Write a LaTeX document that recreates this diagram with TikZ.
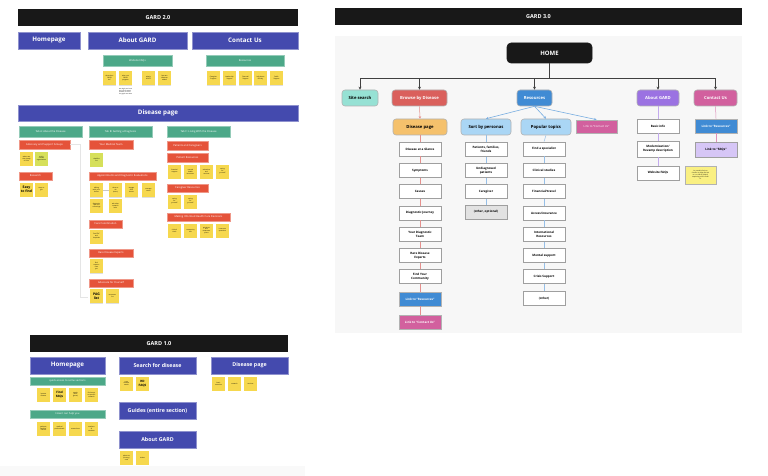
\documentclass[tikz,border=0pt]{standalone}
\usepackage{fontspec}
\setmainfont{Open Sans}
\usetikzlibrary{arrows.meta, shadows}

\definecolor{barblack}{RGB}{24,24,24}
\definecolor{gardindigo}{RGB}{68,74,174}
\definecolor{tabgreen}{RGB}{76,168,136}
\definecolor{labelred}{RGB}{229,83,58}
\definecolor{stickyyellow}{RGB}{246,216,78}
\definecolor{stickylime}{RGB}{214,224,90}
\definecolor{panelgray}{RGB}{247,247,247}
\definecolor{sitecyan}{RGB}{150,225,212}
\definecolor{browsered}{RGB}{218,96,92}
\definecolor{pageorange}{RGB}{245,193,108}
\definecolor{resblue}{RGB}{64,139,212}
\definecolor{skyblue}{RGB}{170,214,245}
\definecolor{aboutpurple}{RGB}{155,114,226}
\definecolor{contactpink}{RGB}{210,96,158}
\definecolor{lavender}{RGB}{214,198,246}
\definecolor{noteyellow}{RGB}{250,240,130}
\definecolor{othergray}{RGB}{226,226,226}

\tikzset{
  titlebar/.style={fill=barblack, text=white, font=\bfseries\fontsize{5.5}{6}\selectfont,
    minimum height=17pt, inner sep=0pt},
  sectionbox/.style={fill=gardindigo, draw=gardindigo!60, line width=0.4pt, text=white,
    font=\bfseries\fontsize{6.2}{7}\selectfont, minimum height=17pt, inner sep=0pt},
  tabbar/.style={fill=tabgreen, draw=tabgreen!60, line width=0.3pt, text=white,
    font=\fontsize{2.6}{3}\selectfont, minimum height=11pt, inner sep=0pt},
  redbar/.style={fill=labelred, draw=labelred!60, line width=0.3pt, text=white,
    font=\fontsize{2.6}{3}\selectfont, minimum height=9pt, inner sep=0pt},
  sticky/.style={fill=stickyyellow, minimum width=13pt, minimum height=14pt, inner sep=0.4pt,
    align=center, font=\fontsize{1.6}{1.9}\selectfont,
    drop shadow={shadow xshift=0pt, shadow yshift=-0.7pt, opacity=0.25}},
  bigsticky/.style={sticky, font=\bfseries\fontsize{3.4}{3.8}\selectfont},
  topbox/.style={rounded corners=3pt, draw=gray!60, line width=0.6pt, minimum height=16pt,
    inner sep=0pt, font=\bfseries\fontsize{4.2}{5}\selectfont},
  leaf/.style={fill=white, draw=gray!75, line width=0.7pt, minimum width=42pt, minimum height=14pt,
    inner sep=0.5pt, align=center, font=\bfseries\fontsize{3}{3.6}\selectfont},
  homeline/.style={draw=black!75, line width=0.8pt},
  frameline/.style={draw=gray!20, line width=0.6pt},
}

\begin{document}
\begin{tikzpicture}[x=1pt, y=-1pt]
\useasboundingbox (0,0) rectangle (768,476);
\fill[gray!5] (0,466) rectangle (305,476);

% ---------------- GARD 2.0 ----------------
\node[titlebar, minimum width=280pt] (title2) at (158,17.5) {GARD 2.0};
\node[sectionbox, minimum width=62pt] (home2) at (49,40.5) {Homepage};
\node[sectionbox, minimum width=99pt] (about2) at (137.5,40.5) {About GARD};
\node[sectionbox, minimum width=106pt] (contact2) at (245,40.5) {Contact Us};
\node[tabbar, minimum width=69pt] (faq2) at (137.5,60.5) {Website FAQs};
\node[tabbar, minimum width=78pt] (res2) at (245,60.5) {Resources};
\foreach \x/\t [count=\i] in {109.5/{what does\\GARD\\do?}, 125.5/{who runs\\GARD\\program}, 148.5/{what's\\NCATS}, 164.5/{how are\\diseases\\added}}
  \node[sticky] (abst\i) at (\x,78) {\t};
\node[anchor=north west, align=left, inner sep=0pt, font=\fontsize{1.5}{1.8}\selectfont] (absnote) at (119,88)
  {we might not have\\the info for every\\disease, so fill in\\the gaps over time};
\foreach \x/\t [count=\i] in {213.5/{Caregiver\\Support}, 229.5/{Leadership\\Support}, 245.5/{Financial\\Support}, 260.5/{Info about\\RD day}, 276.5/{Public\\Support}}
  \node[sticky] (cost\i) at (\x,78) {\t};

\node[sectionbox, minimum width=280pt, minimum height=16pt] (disease2) at (158,113) {Disease page};
\node[tabbar, minimum width=63pt] (tabA) at (50.5,131.5) {Tab A: About the Disease};
\node[tabbar, minimum width=63pt] (tabB) at (120.5,131.5) {Tab B: Getting a Diagnosis};
\node[tabbar, minimum width=63pt] (tabC) at (198.5,131.5) {Tab C: Living With the Disease};

% tab A
\node[redbar, minimum width=51pt] (advo) at (44.5,144.5) {Advocacy and Support Groups};
\node[sticky] (advst1) at (26.5,158.5) {where are\\they (map)\\on info};
\node[sticky, fill=stickylime] (advst2) at (41.5,158.5) {add a\\contact\\organization};
\node[redbar, minimum width=33pt, minimum height=8pt] (research) at (35.5,176) {Research};
\node[bigsticky] (resst1) at (26.5,189.5) {Easy\\to find};
\node[sticky] (resst2) at (41.5,189.5) {ways to\\get};
\coordinate (fcorner) at (80,297);
\coordinate (fend) at (88,297);
\draw[frameline] (advo.east) -| (fcorner) -- (fend);

% tab B
\node[redbar, minimum width=44pt] (medteam) at (111,144.5) {Your Medical Team};
\node[sticky, fill=stickylime] (medst1) at (96.5,159.5) {checklist\\list};
\node[redbar, minimum width=67pt, minimum height=8pt] (appts) at (122.5,176) {Appointments and Diagnostic Evaluations};
\foreach \x/\t [count=\i] in {96.5/{talking\\with your\\doctor}, 115.5/{what to\\do\\(tests)}, 131.5/{engage\\with\\doctor}, 148.5/{manage\\stress}}
  \node[sticky] (apst\i) at (\x,190) {\t};
\node[sticky] (apst5) at (96.5,205.5) {diagnosis\\tips and\\screenings};
\node[sticky] (apst6) at (115.5,205.5) {ask other\\research\\labs};
\draw[frameline, draw=gray!45] (apst1) -- (apst2);
\node[redbar, minimum width=33pt, minimum height=8pt] (carecoord) at (105.5,224) {Care Coordination};
\node[sticky] (ccst1) at (96.5,236.5) {See EDC\\and\\hospitals};
\node[redbar, minimum width=44pt, minimum height=8pt] (experts) at (111,253) {Rare Disease Experts};
\node[sticky] (exst1) at (96.5,266) {find\\experts\\near\\you};
\node[redbar, minimum width=44pt, minimum height=8pt] (advocate) at (111,283) {Advocate for Yourself};
\node[bigsticky] (avst1) at (96.5,296) {PAG\\list};
\node[sticky] (avst2) at (112.5,296) {resources\\list};

% tab C
\node[redbar, minimum width=41pt] (patcare) at (187.5,145.5) {Patients and Caregivers};
\node[redbar, minimum width=41pt] (patres) at (187.5,157.5) {Patient Resources};
\foreach \x/\t [count=\i] in {174.5/{financial\\support}, 190.5/{mental\\health\\resources}, 206.5/{education\\and\\services}, 222.5/{caring\\for\\yourself}}
  \node[sticky] (prst\i) at (\x,171.5) {\t};
\node[redbar, minimum width=41pt, minimum height=8pt] (cgres) at (187.5,188) {Caregiver Resources};
\foreach \x [count=\i] in {174.5, 190.5}
  \node[sticky] (cgst\i) at (\x,201.5) {caring\\for\\yourself};
\node[redbar, minimum width=63pt, minimum height=8pt] (informed) at (198.5,217) {Making Informed Health Care Decisions};
\foreach \x/\t [count=\i] in {174.5/{clinical\\trials}, 190.5/{community\\info}, 206.5/{guidance\\and\\treatment\\plans}, 222.5/{insurance\\questions}}
  \node[sticky] (inst\i) at (\x,230.5) {\t};

% ---------------- GARD 1.0 ----------------
\node[titlebar, minimum width=258pt] (title1) at (159,343.5) {GARD 1.0};
\node[sectionbox, minimum width=75pt] (home1) at (67.5,365.5) {Homepage};
\node[sectionbox, minimum width=77pt, font=\bfseries\fontsize{5.3}{6}\selectfont] (search1) at (157.5,365.5) {Search for disease};
\node[sectionbox, minimum width=77pt, font=\bfseries\fontsize{5.3}{6}\selectfont] (dpage1) at (249.5,365.5) {Disease page};
\node[sectionbox, minimum width=77pt, font=\bfseries\fontsize{5.3}{6}\selectfont] (guides1) at (157.5,410.5) {Guides (entire section)};
\node[sectionbox, minimum width=77pt, font=\bfseries\fontsize{5.3}{6}\selectfont] (about1) at (157.5,439.5) {About GARD};
\node[tabbar, minimum width=75pt, minimum height=8pt] (quick1) at (67.5,381) {quick access to some sections};
\node[tabbar, minimum width=75pt, minimum height=8pt] (help1) at (67.5,414) {How it can help you};
\node[sticky] (qst1) at (43.5,394.5) {browse\\disease};
\node[bigsticky, font=\bfseries\fontsize{3}{3.4}\selectfont] (qst2) at (59.5,394.5) {Find\\FAQs};
\node[sticky] (qst3) at (75.5,394.5) {search\\(with\\genes)};
\node[sticky] (qst4) at (91.5,394.5) {find more\\on specific\\research};
\foreach \x/\t [count=\i] in {43.5/{patients,\\families,\\friends}, 59.5/{medical\\professionals}, 75.5/{researchers}, 91.5/{teachers\\\&\\students}}
  \node[sticky] (hst\i) at (\x,428.5) {\t};
\node[sticky] (sst1) at (126.5,383.5) {rare\\disease\\search};
\node[bigsticky, font=\bfseries\fontsize{3}{3.4}\selectfont] (sst2) at (142.5,383.5) {RD\\FAQS};
\foreach \x/\t [count=\i] in {218.5/{basic\\overview}, 234.5/{research}, 250.5/{services}}
  \node[sticky] (dst\i) at (\x,383.5) {\t};
\node[sticky] (ast1) at (126.5,457.5) {about us\\(history)\\card};
\node[sticky] (ast2) at (142.5,457.5) {videos};

% ---------------- GARD 3.0 ----------------
\node[titlebar, minimum width=407pt] (title3) at (538.5,16.5) {GARD 3.0};
\fill[panelgray] (335,36) rectangle (742,333);
\node[topbox, fill=barblack, draw=barblack, text=white, minimum width=85pt, minimum height=20pt,
  rounded corners=4pt, font=\bfseries\fontsize{6}{7}\selectfont] (home3) at (549.5,53) {HOME};

\node[topbox, fill=sitecyan, minimum width=36pt] (site) at (360,98) {Site search};
\node[topbox, fill=browsered, text=white, minimum width=55pt] (browse) at (419.5,98) {Browse by Disease};
\node[topbox, fill=resblue, text=white, minimum width=35pt] (resources) at (534.5,98) {Resources};
\node[topbox, fill=aboutpurple, text=white, minimum width=42pt] (aboutg) at (658,98) {About GARD};
\node[topbox, fill=contactpink, text=white, minimum width=43pt] (contact3) at (715.5,98) {Contact Us};

\coordinate (hub) at (549.5,78);
\draw[homeline] (home3.south) -- (hub);
\foreach \n in {site, browse, resources, aboutg, contact3}
  \draw[homeline, -{Stealth[length=3pt, width=3pt]}] (hub) -| (\n.north);

% browse by disease
\node[topbox, fill=pageorange, minimum width=54pt] (dpage3) at (420,127) {Disease page};
\foreach \t [count=\i] in {Disease at a Glance, Symptoms, Causes, Diagnostic Journey, {Your Diagnostic\\Team}, {Rare Disease\\Experts}, {Find Your\\Community}}
  \node[leaf] (dl\i) at (420,{149+21.3*(\i-1)}) {\t};
\node[leaf, fill=resblue, text=white, draw=gray!60] (dl8) at (420,299) {Link to ``Resources''};
\node[leaf, fill=contactpink, text=white, draw=gray!60] (dl9) at (420,322) {Link to ``Contact Us''};
\draw[browsered!70, line width=0.5pt, -{Stealth[length=2.5pt, width=2.5pt]}] (browse.south) -- (dpage3.north);
\draw[browsered!70, line width=0.5pt] (dpage3.south) -- (dl1.north);
\foreach \i [evaluate=\i as \j using int(\i+1)] in {1,...,8}
  \draw[browsered!70, line width=0.5pt] (dl\i.south) -- (dl\j.north);

% resources
\node[topbox, fill=skyblue, minimum width=50pt] (personas) at (486,127) {Sort by personas};
\node[topbox, fill=skyblue, minimum width=50pt] (popular) at (546,127) {Popular topics};
\node[leaf, fill=contactpink, text=white, draw=gray!60, minimum width=41pt, minimum height=13pt,
  font=\fontsize{2.8}{3.4}\selectfont] (rlink) at (596.5,126.5) {Link to ``Contact Us''};
\foreach \n in {personas, popular, rlink}
  \draw[resblue!70, line width=0.6pt, -{Stealth[length=2.5pt, width=2.5pt]}] (resources.south) -- (\n.north);

\foreach \t [count=\i] in {{Patients, families,\\friends}, {Undiagnosed\\patients}, Caregiver}
  \node[leaf] (pl\i) at (486,{149.5+21*(\i-1)}) {\t};
\node[leaf, fill=othergray] (pl4) at (486,212) {(other, optional)};
\draw[resblue!55, line width=0.5pt] (personas.south) -- (pl1.north);
\foreach \i [evaluate=\i as \j using int(\i+1)] in {1,...,3}
  \draw[resblue!55, line width=0.5pt] (pl\i.south) -- (pl\j.north);

\foreach \t [count=\i] in {Find a specialist, Clinical studies, Financial/travel, Access/insurance, {International\\Resources}, Mental support, Crisis Support, (other)}
  \node[leaf] (tl\i) at (544,{149+21.3*(\i-1)}) {\t};
\draw[resblue!55, line width=0.5pt] (popular.south) -- (tl1.north);
\foreach \i [evaluate=\i as \j using int(\i+1)] in {1,...,7}
  \draw[resblue!55, line width=0.5pt] (tl\i.south) -- (tl\j.north);

% about GARD
\node[leaf] (al1) at (658,126) {Basic info};
\node[leaf, minimum height=16pt] (al2) at (658,149) {Modernization/\\Revamp description};
\node[leaf] (al3) at (658,173) {Website FAQs};
\draw[aboutpurple!60, line width=0.5pt] (aboutg.south) -- (al1.north);
\draw[aboutpurple!60, line width=0.5pt] (al1.south) -- (al2.north);
\draw[aboutpurple!60, line width=0.5pt] (al2.south) -- (al3.north);
\node[fill=noteyellow, draw=gray!60, line width=0.4pt, minimum width=31pt, minimum height=18pt,
  inner sep=0.5pt, align=center, font=\fontsize{1.5}{1.8}\selectfont] (faqnote) at (700.5,175)
  {Or, possibly FAQs on\\Contact Us page and link\\to it, or library (FAQs?)\\depending on the scroll\\fit.};

% contact us
\node[leaf, fill=resblue, text=white, draw=gray!60] (cl1) at (716,126) {Link to ``Resources''};
\node[leaf, fill=lavender, minimum height=15pt] (cl2) at (716,149.5) {Link to ``FAQs''};
\draw[contactpink!70, line width=0.5pt] (contact3.south) -- (cl1.north);
\draw[contactpink!70, line width=0.5pt] (cl1.south) -- (cl2.north);
\end{tikzpicture}
\end{document}
